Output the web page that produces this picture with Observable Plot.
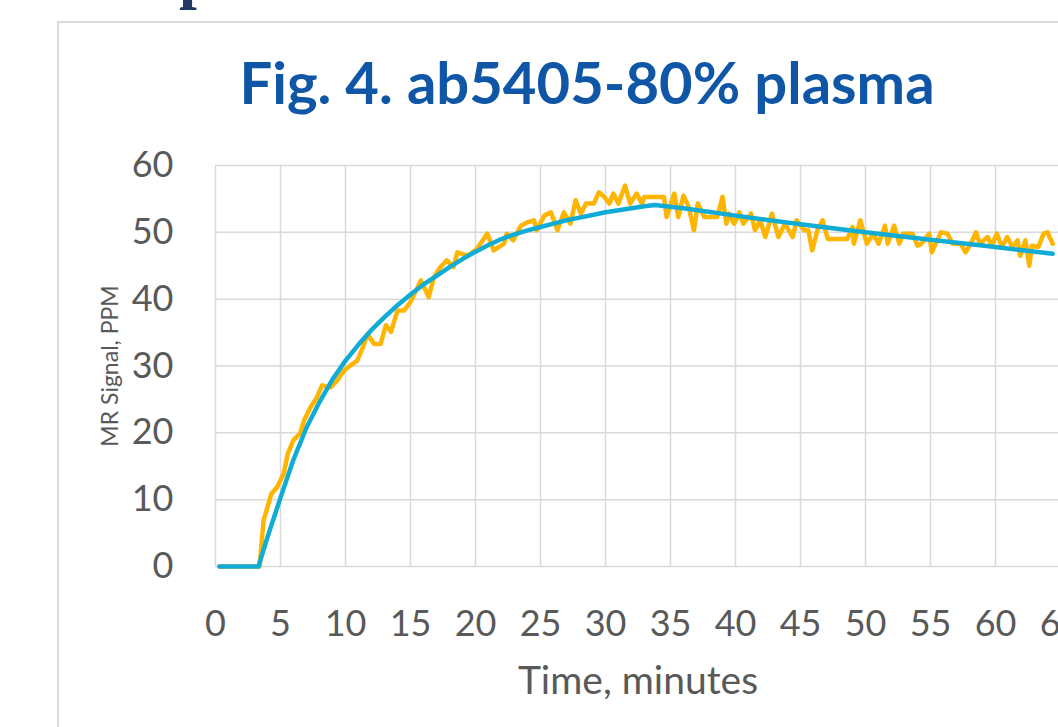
<!DOCTYPE html>
<html>
<head>
<meta charset="utf-8">
<script src="https://cdn.jsdelivr.net/npm/d3@7"></script>
<script src="https://cdn.jsdelivr.net/npm/@observablehq/plot@0.6"></script>
<style>
html, body { margin: 0; padding: 0; background: #fff; overflow: hidden; width: 1058px; height: 727px; }
#frame { position: absolute; left: 57px; top: 21px; width: 1100px; height: 800px; border-left: 2px solid #d9d9d9; border-top: 2px solid #d9d9d9; }
#chart { position: absolute; left: 0; top: 0; width: 1120px; height: 727px; }
#chart svg { display: block; max-width: none !important; width: 1120px !important; height: 727px !important; }
#cut { position: absolute; left: 0; top: 0; overflow: hidden; }
</style>
</head>
<body>
<svg id="cut" width="300" height="20"><text x="179" y="-4" font-family="Liberation Serif" font-weight="bold" font-size="64" fill="#1F3864">p</text></svg>
<div id="frame"></div>
<div id="chart"></div>
<script>
const titleText = "Fig. 4. ab5405-80% plasma";
const xLabel = "Time, minutes";
const yLabel = "MR Signal, PPM";
const xTicks = [0, 5, 10, 15, 20, 25, 30, 35, 40, 45, 50, 55, 60, 65];
const yTicks = [0, 10, 20, 30, 40, 50, 60];

// Measured signal (orange)
const signalTime = [0.3, 3.4, 3.5, 3.7, 4.0, 4.3, 4.75, 5.25, 5.56, 6.0, 6.5, 6.8, 7.3, 7.8, 8.2, 8.85, 9.35, 9.87, 10.4, 10.9,
  11.4, 11.7, 12.2, 12.7, 13.1, 13.5, 14.0, 14.5, 15.0, 15.8, 16.4, 16.8, 17.3, 17.8, 18.3, 18.6, 19.4, 20.1, 20.9, 21.4,
  22.2, 22.4, 22.9, 23.5, 24.0, 24.5, 24.7, 25.3, 25.8, 26.3, 26.8, 27.3, 27.7, 28.1, 28.5, 29.1, 29.5, 29.9, 30.3, 30.6,
  31.0, 31.5, 31.9, 32.4, 32.8, 33.0, 33.7, 34.5, 34.7, 35.3, 35.6, 36.0, 36.4, 36.8, 37.1, 37.6, 38.6, 39.0, 39.3, 39.5,
  39.9, 40.3, 40.6, 41.2, 41.5, 41.9, 42.3, 42.8, 43.3, 43.8, 44.4, 44.7, 45.3, 45.6, 45.9, 46.3, 46.7, 47.1, 48.6, 49.0,
  49.1, 49.6, 50.1, 50.6, 51.0, 51.5, 51.7, 52.2, 52.6, 52.9, 53.6, 54.0, 54.3, 54.9, 55.1, 55.8, 56.3, 56.7, 57.3, 57.7,
  58.1, 58.5, 58.8, 59.4, 59.7, 60.1, 60.5, 60.9, 61.3, 61.7, 61.9, 62.3, 62.6, 62.8, 63.3, 63.7, 64.0, 64.4];
const signalPPM = [0, 0, 2.5, 6.9, 8.9, 10.9, 11.9, 13.9, 16.9, 18.9, 19.9, 21.8, 23.8, 25.3, 27.1, 26.8, 27.8, 29.3, 30.1, 30.8,
  33.1, 34.8, 33.3, 33.3, 36.1, 35.1, 38.3, 38.3, 39.6, 42.8, 40.3, 43.3, 44.8, 45.8, 44.8, 47.0, 46.5, 47.5, 49.8, 47.3,
  48.3, 49.8, 48.8, 51.0, 51.5, 51.8, 50.3, 52.5, 53.0, 50.3, 53.0, 51.3, 54.8, 52.8, 54.3, 54.3, 56.0, 55.3, 54.3, 55.8,
  54.3, 57.0, 54.3, 55.8, 54.3, 55.3, 55.3, 55.3, 52.3, 55.8, 52.3, 55.5, 53.8, 50.3, 54.3, 52.3, 52.3, 55.3, 51.3, 52.8,
  51.3, 53.0, 51.3, 52.8, 50.3, 51.8, 49.3, 52.8, 49.3, 51.3, 49.3, 51.8, 50.3, 50.3, 47.3, 50.3, 51.8, 49.0, 49.0, 50.8,
  48.3, 51.8, 48.3, 49.8, 48.3, 51.0, 48.3, 51.0, 48.3, 49.8, 49.8, 48.0, 48.3, 49.8, 47.0, 50.0, 49.8, 48.3, 48.3, 47.0,
  48.3, 50.0, 48.3, 49.3, 48.0, 49.8, 47.8, 49.3, 47.8, 48.8, 46.5, 48.8, 45.0, 48.0, 47.8, 49.8, 50.0, 48.3];

// Model fit (blue)
const fitTime = [0.3, 3.3, 4, 5, 6, 7, 8, 9, 10, 11, 12, 13, 14, 15, 16, 17, 18, 19, 20, 21, 22, 23, 24, 25, 26, 27, 28, 29,
  30, 31, 32, 33, 33.8, 36, 40, 45, 50, 55, 60, 64.4];
const fitPPM = [0, 0, 4.4, 10.3, 16.0, 20.8, 24.6, 28.0, 30.8, 33.2, 35.4, 37.3, 39.1, 40.7, 42.2, 43.5, 44.8, 46.0, 47.1, 48.1,
  49.0, 49.7, 50.3, 50.8, 51.3, 51.8, 52.2, 52.6, 53.0, 53.3, 53.6, 53.9, 54.1, 53.6, 52.5, 51.2, 50.0, 48.9, 47.8, 46.8];

const signal = signalTime.map((t, i) => ({t, v: signalPPM[i]}));
const fit = fitTime.map((t, i) => ({t, v: fitPPM[i]}));

const chart = Plot.plot({
  width: 1120,
  height: 727,
  marginLeft: 215,
  marginRight: 60,
  marginTop: 165,
  marginBottom: 161,
  x: {domain: [0, 65]},
  y: {domain: [0, 60]},
  style: {fontFamily: "Lato, 'Open Sans', sans-serif", color: "#595959", background: "transparent", overflow: "visible", maxWidth: "none"},
  marks: [
    Plot.ruleX(xTicks, {stroke: "#d9d9d9", strokeWidth: 1.5}),
    Plot.ruleY(yTicks, {stroke: "#d9d9d9", strokeWidth: 1.5}),
    Plot.axisX(xTicks, {tickSize: 0, tickPadding: 44, fontSize: 36, fill: "#595959", label: null, tickFormat: d => String(d)}),
    Plot.axisY(yTicks, {tickSize: 0, tickPadding: 42, fontSize: 36, fill: "#595959", label: null, tickFormat: d => String(d)}),
    Plot.line(signal, {x: "t", y: "v", stroke: "#FFB400", strokeWidth: 4.5, strokeLinejoin: "round"}),
    Plot.line(fit, {x: "t", y: "v", stroke: "#10ACD6", strokeWidth: 4.5, strokeLinejoin: "round"}),
    Plot.text([titleText], {text: d => d, frameAnchor: "top", textAnchor: "middle", dx: -51, dy: -103, fontSize: 58, fontWeight: "bold", fill: "#0F57A6"}),
    Plot.text([yLabel], {text: d => d, frameAnchor: "left", textAnchor: "middle", dx: -105, rotate: -90, fontSize: 23, fill: "#595959"}),
    Plot.text([xLabel], {text: d => d, frameAnchor: "bottom", textAnchor: "middle", dx: 0, dy: 127, fontSize: 39, fill: "#595959"})
  ]
});
document.getElementById("chart").appendChild(chart);
</script>
</body>
</html>
